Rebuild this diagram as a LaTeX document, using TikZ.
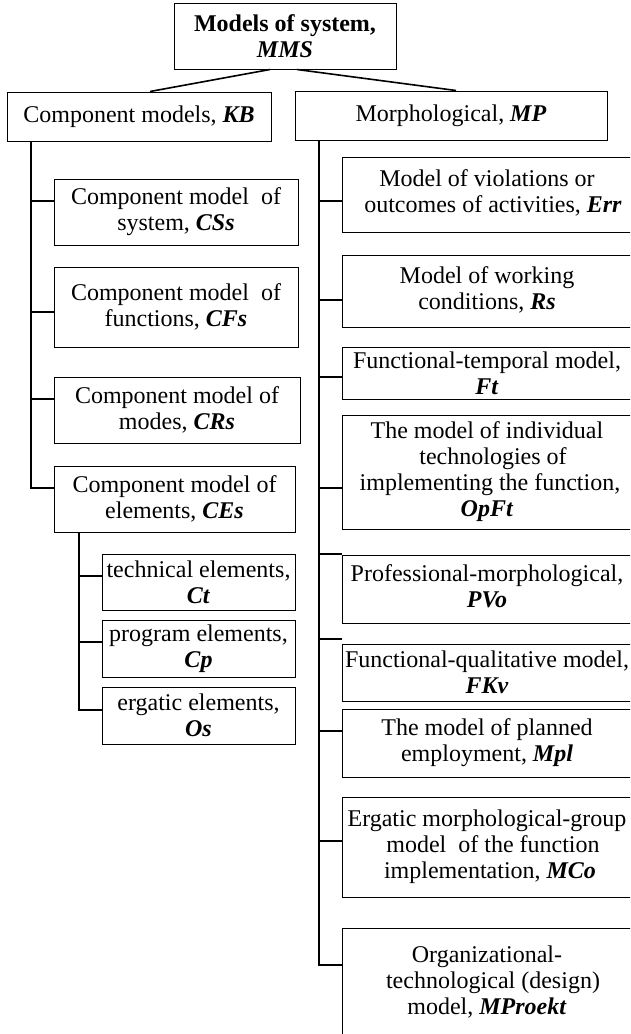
\documentclass[tikz,border=0pt]{standalone}
\usepackage{fontspec}
\setmainfont{Liberation Serif}
\usetikzlibrary{calc}
\newcommand\mcode[1]{\textbf{\textit{#1}}}
\newcommand\tl[2]{\raisebox{#1}{\begin{tabular}{@{}c@{}}#2\end{tabular}}}
\tikzset{
  box/.style={draw, line width=1pt, inner sep=0pt, align=center, font=\fontsize{24}{26}\selectfont},
  link/.style={line width=1.6pt},
}
\begin{document}
\begin{tikzpicture}[x=1pt,y=-1pt]
\useasboundingbox (0,0) rectangle (630,1034);
\clip (0,0) rectangle (630,1034);
\fill[white] (0,0) rectangle (630,1034);
% top
\node[box, minimum width=222pt, minimum height=66pt] (MMS) at (285,36) {\textbf{Models of system,}\\\mcode{MMS}};
\node[box, minimum width=264pt, minimum height=49pt] (KB) at (139,116.5) {Component models, \mcode{KB}};
\node[box, minimum width=312pt, minimum height=49pt] (MP) at (451,115.5) {Morphological, \mcode{MP}};
\draw[link] ($(MMS.south)+(-15,0)$) -- ($(KB.north)+(11,0)$);
\draw[link] ($(MMS.south)+(12,0)$) -- ($(MP.north)+(5,0)$);
% left column
\node[box, minimum width=244pt, minimum height=66pt] (CSs) at (176,212) {\tl{3pt}{Component model\ \ of\\system, \mcode{CSs}}};
\node[box, minimum width=244pt, minimum height=80pt] (CFs) at (176,307) {Component model\ \ of\\functions, \mcode{CFs}};
\node[box, minimum width=246pt, minimum height=66pt] (CRs) at (177,410) {Component model of\\modes, \mcode{CRs}};
\node[box, minimum width=241pt, minimum height=66pt] (CEs) at (174.5,499) {Component model of\\elements, \mcode{CEs}};
\node[box, minimum width=193pt, minimum height=56pt] (Ct) at (198.5,582) {technical elements,\\\mcode{Ct}};
\node[box, minimum width=193pt, minimum height=57pt] (Cp) at (198.5,648.5) {program elements,\\\mcode{Cp}};
\node[box, minimum width=193pt, minimum height=57pt] (Os) at (198.5,715.5) {ergatic elements,\\\mcode{Os}};
\coordinate (kbtop) at (KB.south -| 31,0);
\coordinate (l1) at (31,201);
\coordinate (l2) at (31,312);
\coordinate (l3) at (31,399);
\coordinate (l4) at (31,488);
\draw[link] (kbtop) -- (l4) -- (l4 -| CEs.west);
\draw[link] (l1) -- (l1 -| CSs.west);
\draw[link] (l2) -- (l2 -| CFs.west);
\draw[link] (l3) -- (l3 -| CRs.west);
\coordinate (cetop) at (CEs.south -| 79,0);
\coordinate (s1) at (79,576);
\coordinate (s2) at (79,642);
\coordinate (s3) at (79,710);
\draw[link] (cetop) -- (s3) -- (s3 -| Os.west);
\draw[link] (s1) -- (s1 -| Ct.west);
\draw[link] (s2) -- (s2 -| Cp.west);
% right column
\node[box, minimum width=290pt, minimum height=75pt] (Err) at (487,194.5) {\tl{6pt}{Model of violations or\\\ \ outcomes of activities, \mcode{Err}}};
\node[box, minimum width=290pt, minimum height=72pt] (Rs) at (487,291) {\tl{5pt}{Model of working\\conditions, \mcode{Rs}}};
\node[box, minimum width=290pt, minimum height=52pt] (Ft) at (487,373) {Functional-temporal model,\\\mcode{Ft}};
\node[box, minimum width=290pt, minimum height=114pt] (OpFt) at (487,472) {The model of individual\\\ \ technologies of\\\ implementing the function,\\\mcode{OpFt}};
\node[box, minimum width=290pt, minimum height=68pt] (PVo) at (487,589) {\tl{4pt}{Professional-morphological,\\\mcode{PVo}}};
\node[box, minimum width=290pt, minimum height=57pt] (FKv) at (487,672.5) {Functional-qualitative model,\\\mcode{FKv}};
\node[box, minimum width=290pt, minimum height=68pt] (Mpl) at (487,743) {\tl{5pt}{The model of planned\\employment, \mcode{Mpl}}};
\node[box, minimum width=290pt, minimum height=100pt] (MCo) at (487,847) {\tl{8pt}{Ergatic morphological-group\\\ \ model\ \ of the function\\\ implementation, \mcode{MCo}}};
\node[box, minimum width=290pt, minimum height=110pt] (MPr) at (487,983) {\tl{10pt}{Organizational-\\\ \ technological (design)\\model, \mcode{MProekt}}};
\coordinate (mptop) at (MP.south -| 319,0);
\coordinate (r1) at (319,201);
\coordinate (r2) at (319,300);
\coordinate (r3) at (319,377);
\coordinate (r4) at (319,488);
\coordinate (r5) at (319,554);
\coordinate (r6) at (319,639);
\coordinate (r7) at (319,731);
\coordinate (r8) at (319,841);
\coordinate (r9) at (319,965);
\draw[link] (mptop) -- (r9) -- (r9 -| MPr.west);
\draw[link] (r1) -- (r1 -| Err.west);
\draw[link] (r2) -- (r2 -| Rs.west);
\draw[link] (r3) -- (r3 -| Ft.west);
\draw[link] (r4) -- (r4 -| OpFt.west);
\draw[link] (r5) -- (r5 -| PVo.west);
\draw[link] (r6) -- (r6 -| FKv.west);
\draw[link] (r7) -- (r7 -| Mpl.west);
\draw[link] (r8) -- (r8 -| MCo.west);
\end{tikzpicture}
\end{document}
